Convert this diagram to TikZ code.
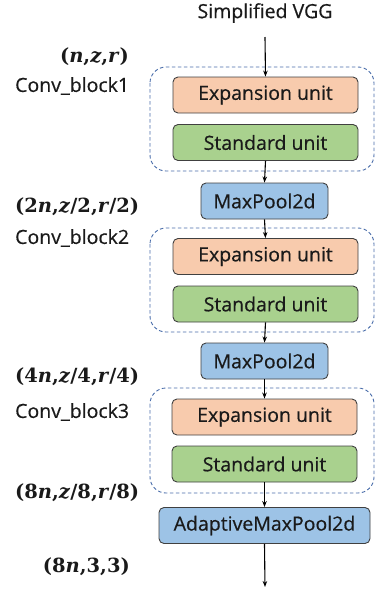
\documentclass[tikz,border=0pt]{standalone}
\usepackage{fontspec}
\setmainfont{Open Sans}
\newfontfamily\medfont{Open Sans}[FakeBold=0.5]
\newfontfamily\dimfont{DejaVu Serif}
\newcommand{\vr}[1]{\textit{#1}}
\usetikzlibrary{arrows.meta}
\definecolor{expfill}{HTML}{F8CBAD}
\definecolor{stdfill}{HTML}{A9D18E}
\definecolor{poolfill}{HTML}{9DC3E6}
\definecolor{boxedge}{HTML}{404040}
\definecolor{groupedge}{HTML}{4A6DAA}
\definecolor{ink}{HTML}{1A1A1A}
\begin{document}
\begin{tikzpicture}[x=1pt,y=-1pt,
  unitbox/.style={draw=boxedge,line width=0.9pt,rounded corners=5pt,minimum height=36pt,inner sep=0pt,text=ink,font=\medfont\fontsize{19.5}{22}\selectfont},
  grp/.style={draw=groupedge,dash pattern=on 3.5pt off 2.5pt,line width=0.9pt,rounded corners=16pt},
  flow/.style={-{Stealth[length=6pt,width=4.5pt]},line width=1.1pt},
  lbl/.style={font=\medfont\fontsize{19.5}{22}\selectfont,text=ink,inner sep=0pt},
  dim/.style={font=\dimfont\bfseries\fontsize{19.5}{22}\selectfont,text=ink,inner sep=0pt}]
\useasboundingbox (0,0) rectangle (375,590);

% groups drawn first so the units sit on top
\draw[grp] (150,67) rectangle (374,171);
\draw[grp] (150,228) rectangle (374,332);
\draw[grp] (150,388) rectangle (374,493);

\node[lbl] (title) at (265,13) {Simplified VGG};
\coordinate (top) at (265,37);
\coordinate (bottom) at (265,587);

\node[unitbox,fill=expfill,minimum width=185pt] (e1) at (265.5,95) {Expansion unit};
\node[unitbox,fill=stdfill,minimum width=185pt] (s1) at (265.5,142.5) {Standard unit};
\node[unitbox,fill=poolfill,minimum width=127pt] (p1) at (264.5,201) {MaxPool2d};
\node[unitbox,fill=expfill,minimum width=185pt] (e2) at (265.5,256.5) {Expansion unit};
\node[unitbox,fill=stdfill,minimum width=185pt] (s2) at (265.5,304) {Standard unit};
\node[unitbox,fill=poolfill,minimum width=127pt] (p2) at (264.5,361) {MaxPool2d};
\node[unitbox,fill=expfill,minimum width=185pt] (e3) at (264.5,417) {Expansion unit};
\node[unitbox,fill=stdfill,minimum width=185pt] (s3) at (264.5,464) {Standard unit};
\node[unitbox,fill=poolfill,minimum width=211pt] (p3) at (264.5,525.5) {AdaptiveMaxPool2d};

\draw[flow] (top) -- (e1.north);
\draw[flow] (s1.south) -- (p1.north);
\draw[flow] (p1.south) -- (e2.north);
\draw[flow] (s2.south) -- (p2.north);
\draw[flow] (p2.south) -- (e3.north);
\draw[flow] (s3.south) -- (p3.north);
\draw[flow] (p3.south) -- (bottom);

\node[dim,anchor=east] (d1) at (129,57) {(\vr{n},\vr{z},\vr{r})};
\node[lbl,anchor=west] (c1) at (15,86) {Conv\_block1};
\node[dim,anchor=west] (d2) at (15,207) {(2\vr{n},\vr{z}/2,\vr{r}/2)};
\node[lbl,anchor=west] (c2) at (15,238) {Conv\_block2};
\node[dim,anchor=west] (d3) at (15,377) {(4\vr{n},\vr{z}/4,\vr{r}/4)};
\node[lbl,anchor=west] (c3) at (15,412) {Conv\_block3};
\node[dim,anchor=west] (d4) at (15,493) {(8\vr{n},\vr{z}/8,\vr{r}/8)};
\node[dim,anchor=east] (d5) at (130,567) {(8\vr{n},3,3)};
\end{tikzpicture}
\end{document}
